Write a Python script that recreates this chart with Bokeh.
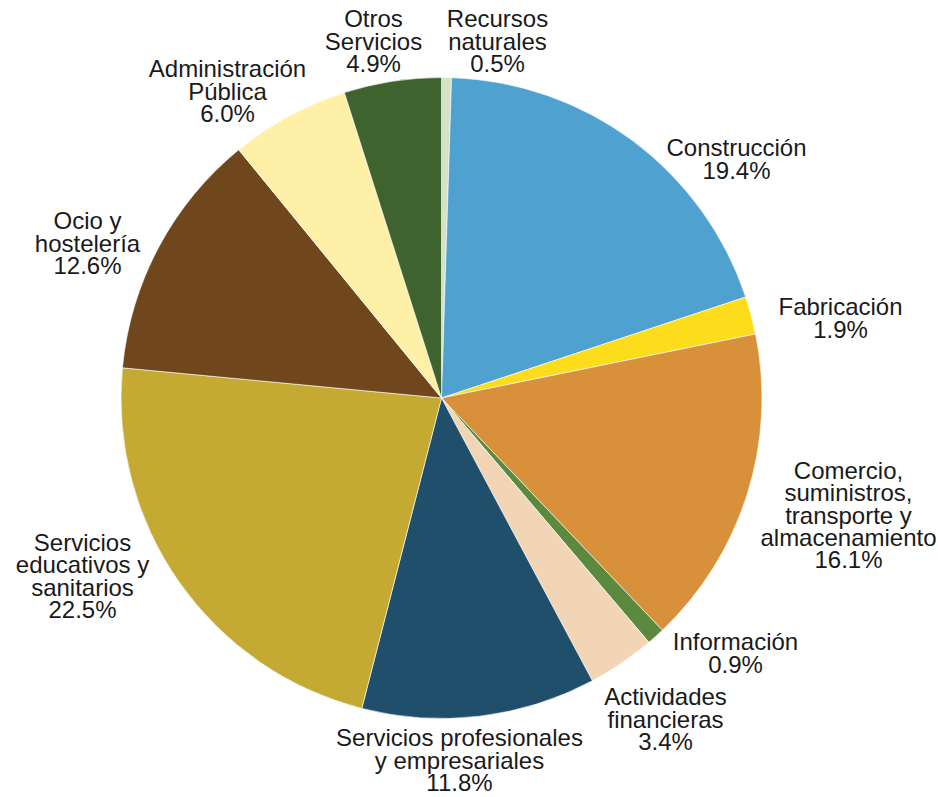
import math
from bokeh.plotting import figure
from bokeh.models import Range1d, ColumnDataSource
from bokeh.core.properties import value
from bokeh.embed import file_html
from bokeh.resources import INLINE

# ---- data ----
categories = [
    "Recursos\nnaturales",
    "Construcción",
    "Fabricación",
    "Comercio,\nsuministros,\ntransporte y\nalmacenamiento",
    "Información",
    "Actividades\nfinancieras",
    "Servicios profesionales\ny empresariales",
    "Servicios\neducativos y\nsanitarios",
    "Ocio y\nhostelería",
    "Administración\nPública",
    "Otros\nServicios",
]
shares = [0.5, 19.4, 1.9, 16.1, 0.9, 3.4, 11.8, 22.5, 12.6, 6.0, 4.9]

# ---- styles / layout ----
colors = ["#d3e3c3", "#4fa1cf", "#fddd1b", "#d8913a", "#5b8a3e", "#f2d5b5",
          "#1f4f6b", "#c4a932", "#70471d", "#fef0a6", "#3f632e"]
# label block centres, in screen pixels relative to pie centre (dx right, dy down)
label_offsets = [(56, -357), (295, -239), (399, -80), (407, 117), (294, 255),
                 (224, 321), (18, 362), (-359, 178), (-354, -155), (-214, -307),
                 (-68, -357)]

W, H = 938, 797
CX, CY_SCREEN = 441, 397.5
R = 320.5
LINE_H = 22.2
FONT = "Liberation Sans"
FSIZE = "24px"


def sy(y_screen):
    return H - y_screen


p = figure(width=W, height=H, output_backend="svg", toolbar_location=None,
           x_range=Range1d(0, W), y_range=Range1d(0, H),
           x_axis_type=None, y_axis_type=None, min_border=0, tools="")
p.grid.visible = False
p.outline_line_color = None
p.background_fill_color = "white"

total = sum(shares)
starts, ends = [], []
cum = 0.0
for s in shares:
    a0 = math.pi / 2 - 2 * math.pi * cum / total
    cum += s
    a1 = math.pi / 2 - 2 * math.pi * cum / total
    starts.append(a0)
    ends.append(a1)

src = ColumnDataSource(dict(start=starts, end=ends, color=colors,
                            name=[c.replace("\n", " ") for c in categories], share=shares))
p.wedge(x=CX, y=sy(CY_SCREEN), radius=R, start_angle="start", end_angle="end",
        direction="clock", fill_color="color", line_color="white", line_width=0.6,
        source=src)

tx, ty, tt = [], [], []
for cat, s, (dx, dy) in zip(categories, shares, label_offsets):
    lines = cat.split("\n") + [f"{s:.1f}%"]
    n = len(lines)
    for i, ln in enumerate(lines):
        tx.append(CX + dx)
        ty.append(sy(CY_SCREEN + dy + (i - (n - 1) / 2) * LINE_H))
        tt.append(ln)

p.text(x=tx, y=ty, text=tt, text_align="center", text_baseline="middle",
       text_font=value(FONT), text_font_size=FSIZE, text_color="#1a1a1a")

open("out.html", "w").write(file_html(p, INLINE))
